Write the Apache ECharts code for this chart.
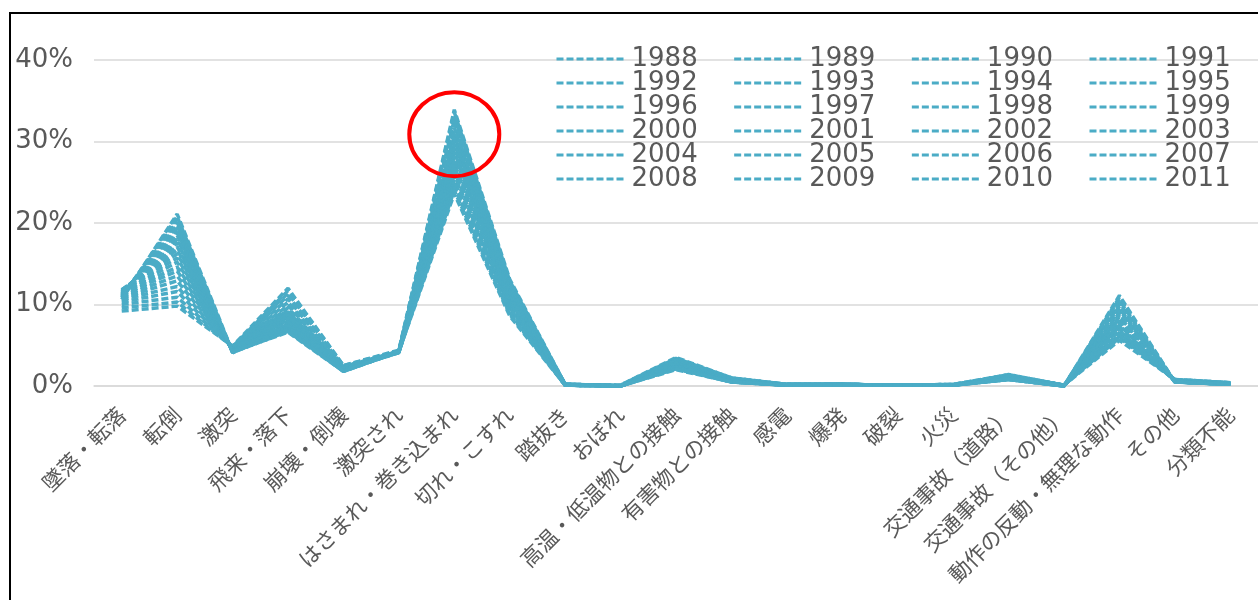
<!DOCTYPE html>
<html>
<head>
<meta charset="utf-8">
<script src="https://cdn.jsdelivr.net/npm/echarts@6/dist/echarts.min.js"></script>
<style>
html,body{margin:0;padding:0;background:#fff;}
#c{width:1258px;height:600px;}
</style>
</head>
<body>
<div id="c"></div>
<script>
const categories = ['墜落・転落','転倒','激突','飛来・落下','崩壊・倒壊','激突され','はさまれ・巻き込まれ','切れ・こすれ','踏抜き','おぼれ','高温・低温物との接触','有害物との接触','感電','爆発','破裂','火災','交通事故（道路）','交通事故（その他）','動作の反動・無理な動作','その他','分類不能'];
const years = ['1988','1989','1990','1991','1992','1993','1994','1995','1996','1997','1998','1999','2000','2001','2002','2003','2004','2005','2006','2007','2008','2009','2010','2011'];
const yTicks = [0, 10, 20, 30, 40];

// shares (%) per accident type, 1988 -> 2011
const v_fall        = [9.2, 9.6, 10.0, 10.3, 10.6, 10.8, 11.0, 11.2, 11.4, 11.5, 11.7, 11.8, 11.8, 11.7, 11.6, 11.5, 11.4, 11.3, 11.2, 11.1, 11.0, 10.9, 10.8, 10.6];
const v_trip        = [9.8, 10.3, 10.9, 11.6, 12.2, 12.9, 13.5, 14.1, 14.6, 15.2, 15.7, 16.2, 16.7, 17.1, 17.6, 18.0, 18.5, 18.9, 19.3, 19.7, 20.1, 20.5, 20.8, 21.1];
const v_clash       = [4.9, 4.8, 4.8, 4.7, 4.7, 4.6, 4.6, 4.5, 4.5, 4.5, 4.4, 4.4, 4.4, 4.3, 4.3, 4.3, 4.2, 4.2, 4.2, 4.2, 4.1, 4.1, 4.1, 4.2];
const v_flying      = [12.0, 11.7, 11.4, 11.1, 10.7, 10.3, 9.9, 9.6, 9.3, 9.1, 8.9, 8.7, 8.5, 8.3, 8.1, 7.9, 7.8, 7.6, 7.4, 7.2, 7.0, 6.9, 6.7, 6.6];
const v_collapse    = [2.5, 2.5, 2.4, 2.4, 2.3, 2.3, 2.3, 2.2, 2.2, 2.2, 2.1, 2.1, 2.1, 2.0, 2.0, 2.0, 1.9, 1.9, 1.9, 1.9, 1.8, 1.8, 1.8, 1.8];
const v_struck      = [4.4, 4.3, 4.3, 4.2, 4.2, 4.3, 4.2, 4.2, 4.1, 4.2, 4.2, 4.1, 4.2, 4.1, 4.2, 4.2, 4.1, 4.2, 4.3, 4.2, 4.2, 4.3, 4.2, 4.2];
const v_caught      = [33.9, 33.6, 33.2, 32.7, 32.2, 31.7, 31.2, 30.7, 30.2, 29.7, 29.2, 28.7, 28.2, 27.7, 27.3, 26.9, 26.4, 26.0, 25.6, 25.2, 24.8, 24.4, 24.0, 23.6];
const v_cut         = [13.1, 12.9, 12.7, 12.5, 12.3, 12.1, 11.9, 11.6, 11.4, 11.2, 11.0, 10.8, 10.6, 10.4, 10.2, 10.0, 9.8, 9.6, 9.5, 9.3, 9.1, 9.0, 8.8, 8.6];
const v_stepThrough = [0.2, 0.2, 0.2, 0.2, 0.2, 0.2, 0.2, 0.2, 0.2, 0.2, 0.2, 0.2, 0.1, 0.1, 0.1, 0.1, 0.1, 0.1, 0.1, 0.1, 0.1, 0.1, 0.1, 0.1];
const v_drown       = [0.1, 0.1, 0.1, 0.0, 0.0, 0.0, 0.0, 0.0, 0.0, 0.0, 0.0, 0.0, 0.0, 0.0, 0.0, 0.0, 0.0, 0.0, 0.0, 0.0, 0.0, 0.0, 0.0, 0.0];
const v_hotCold     = [3.5, 3.4, 3.3, 3.2, 3.2, 3.1, 3.0, 3.0, 2.9, 2.8, 2.8, 2.7, 2.7, 2.6, 2.5, 2.5, 2.4, 2.4, 2.3, 2.3, 2.2, 2.1, 2.1, 2.0];
const v_harmful     = [1.0, 1.0, 0.9, 0.9, 0.9, 0.8, 0.8, 0.8, 0.7, 0.7, 0.7, 0.7, 0.6, 0.6, 0.6, 0.6, 0.6, 0.5, 0.5, 0.5, 0.5, 0.5, 0.5, 0.5];
const v_electric    = [0.2, 0.2, 0.2, 0.2, 0.2, 0.2, 0.2, 0.1, 0.1, 0.1, 0.1, 0.1, 0.1, 0.1, 0.1, 0.1, 0.1, 0.1, 0.1, 0.1, 0.1, 0.1, 0.1, 0.1];
const v_explosion   = [0.2, 0.2, 0.2, 0.2, 0.2, 0.2, 0.2, 0.2, 0.2, 0.2, 0.2, 0.2, 0.2, 0.1, 0.1, 0.1, 0.1, 0.1, 0.1, 0.1, 0.1, 0.1, 0.1, 0.1];
const v_burst       = [0.1, 0.1, 0.1, 0.1, 0.1, 0.1, 0.1, 0.1, 0.1, 0.1, 0.1, 0.1, 0.1, 0.1, 0.1, 0.1, 0.1, 0.1, 0.1, 0.1, 0.1, 0.1, 0.1, 0.1];
const v_fire        = [0.2, 0.2, 0.2, 0.1, 0.1, 0.1, 0.1, 0.1, 0.1, 0.1, 0.1, 0.1, 0.1, 0.1, 0.1, 0.1, 0.1, 0.1, 0.1, 0.1, 0.1, 0.1, 0.1, 0.1];
const v_roadTraffic = [1.3, 1.3, 1.4, 1.4, 1.3, 1.3, 1.2, 1.2, 1.2, 1.1, 1.1, 1.1, 1.0, 1.0, 1.0, 0.9, 0.9, 0.9, 0.9, 0.8, 0.8, 0.8, 0.8, 0.8];
const v_otherTraffic= [0.1, 0.1, 0.1, 0.1, 0.1, 0.1, 0.1, 0.1, 0.1, 0.1, 0.0, 0.0, 0.0, 0.0, 0.0, 0.0, 0.0, 0.0, 0.0, 0.0, 0.0, 0.0, 0.0, 0.0];
const v_overexert   = [5.6, 5.9, 6.1, 6.3, 6.5, 6.8, 7.0, 7.3, 7.5, 7.8, 8.0, 8.3, 8.5, 8.8, 9.0, 9.3, 9.5, 9.8, 10.0, 10.2, 10.5, 10.7, 10.9, 11.1];
const v_other       = [0.8, 0.8, 0.8, 0.7, 0.7, 0.7, 0.7, 0.7, 0.6, 0.6, 0.6, 0.6, 0.6, 0.6, 0.6, 0.5, 0.5, 0.5, 0.5, 0.5, 0.5, 0.5, 0.5, 0.5];
const v_unclass     = [0.4, 0.4, 0.4, 0.4, 0.3, 0.3, 0.3, 0.3, 0.3, 0.3, 0.3, 0.3, 0.3, 0.3, 0.2, 0.2, 0.2, 0.2, 0.2, 0.2, 0.2, 0.2, 0.2, 0.2];

const categoryValues = [v_fall, v_trip, v_clash, v_flying, v_collapse, v_struck, v_caught, v_cut, v_stepThrough, v_drown, v_hotCold, v_harmful, v_electric, v_explosion, v_burst, v_fire, v_roadTraffic, v_otherTraffic, v_overexert, v_other, v_unclass];

const highlightCategory = 'はさまれ・巻き込まれ';
const highlightValue = 30.9;

const COLOR = '#4BACC6';
const TEXT = '#595959';

const series = years.map((y, yi) => ({
  name: y,
  type: 'line',
  data: categoryValues.map(arr => arr[yi]),
  symbol: 'none',
  showSymbol: false,
  lineStyle: { color: COLOR, width: 3.5, type: [7, 3] },
  itemStyle: { color: COLOR },
  silent: true
}));

// one horizontal legend per row (4 years per row)
const rowTop = [46, 70, 94, 118, 142, 166];
const legends = rowTop.map((ty, ri) => ({
  orient: 'horizontal',
  left: 555,
  top: ty,
  padding: 0,
  itemWidth: 70,
  itemHeight: 14,
  itemGap: 35,
  itemStyle: { opacity: 0 },
  lineStyle: { width: 3, type: [7, 3] },
  data: years.slice(ri * 4, ri * 4 + 4),
  textStyle: { fontFamily: 'DejaVu Sans', fontSize: 26, color: TEXT },
  selectedMode: false
}));

const chart = echarts.init(document.getElementById('c'));
chart.setOption({
  animation: false,
  backgroundColor: '#fff',
  grid: { left: 94, right: 0, top: 60, bottom: 214, containLabel: false },
  legend: legends,
  xAxis: {
    type: 'category',
    data: categories,
    boundaryGap: true,
    axisLine: { show: true, lineStyle: { color: '#D9D9D9', width: 1.5 } },
    axisTick: { show: false },
    axisLabel: { rotate: 45, margin: 25, interval: 0, fontFamily: 'Noto Sans CJK JP', fontSize: 21.5, color: TEXT }
  },
  yAxis: {
    type: 'value',
    min: yTicks[0],
    max: yTicks[yTicks.length - 1],
    interval: 10,
    axisLine: { show: false },
    axisTick: { show: false },
    splitLine: { lineStyle: { color: '#D9D9D9', width: 1.5 } },
    axisLabel: { formatter: '{value}%', margin: 21, fontFamily: 'DejaVu Sans', fontSize: 26, color: TEXT }
  },
  series: series
});

const c = chart.convertToPixel({ xAxisIndex: 0, yAxisIndex: 0 }, [highlightCategory, highlightValue]);
chart.setOption({
  graphic: [
    { type: 'rect', shape: { x: 10, y: 13, width: 1400, height: 800 }, style: { fill: 'none', stroke: '#000', lineWidth: 2 }, silent: true },
    { type: 'ellipse', shape: { cx: c[0], cy: c[1], rx: 45, ry: 42 }, style: { fill: 'none', stroke: '#FF0000', lineWidth: 4 }, silent: true, z: 100 }
  ]
});
</script>
</body>
</html>
